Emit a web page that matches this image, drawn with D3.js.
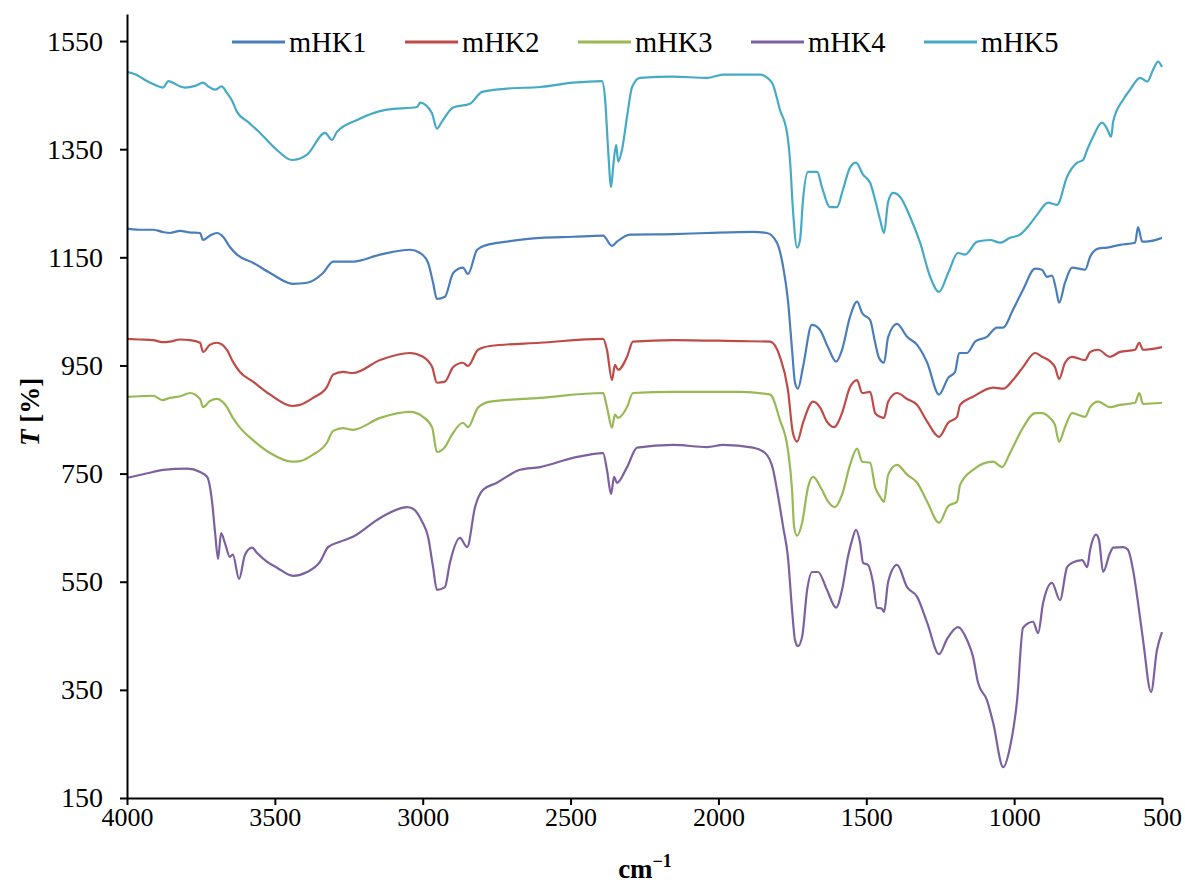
<!DOCTYPE html>
<html>
<head>
<meta charset="utf-8">
<script src="https://cdn.jsdelivr.net/npm/d3@7"></script>
<style>
  html, body { margin: 0; padding: 0; background: #fff; }
  svg { display: block; }
  svg text { font-family: "Liberation Serif", "Times New Roman", Times, serif !important; fill: #000; }
</style>
</head>
<body>
<svg id="chart" width="1185" height="886"></svg>
<script>
// FTIR transmittance spectra, each point is [wavenumber (cm^-1), T (%)]
const seriesNames = ["mHK1", "mHK2", "mHK3", "mHK4", "mHK5"];
const seriesColors = ["#4A7EBB", "#BE4B48", "#98B954", "#7D60A0", "#46AAC5"];

const xTicks = [4000, 3500, 3000, 2500, 2000, 1500, 1000, 500];
const yTicks = [150, 350, 550, 750, 950, 1150, 1350, 1550];

const mHK1 = [
  [4000,1203],[3960,1201],[3912,1201],[3880,1197],[3855,1195],[3820,1199],[3790,1196],[3753,1195],[3743,1182],[3720,1190],[3696,1195],[3675,1188],
  [3652,1169],[3628,1155],[3574,1140],[3516,1121],[3439,1101],[3391,1103],[3337,1121],
  [3303,1142],[3236,1142],[3144,1155],[3043,1164],[3009,1158],[2982,1140],[2965,1103],
  [2952,1073],[2925,1077],[2897,1121],[2864,1131],[2847,1119],[2816,1164],[2782,1173],
  [2715,1179],[2603,1186],[2492,1188],[2390,1190],[2360,1171],[2343,1179],[2299,1192],
  [2153,1193],[2038,1195],[1883,1197],[1836,1195],[1802,1177],[1781,1132],[1765,1071],
  [1751,979],[1741,918],[1731,907],[1714,947],[1684,1025],[1657,1016],[1629,983],
  [1602,957],[1582,979],[1555,1040],[1531,1068],[1514,1047],[1487,1034],[1470,992],
  [1457,964],[1440,955],[1426,1003],[1396,1027],[1362,1003],[1328,988],[1294,955],
  [1254,896],[1223,927],[1200,938],[1186,973],[1159,973],[1132,994],[1092,1003],
  [1058,1020],[1037,1020],[1004,1053],[970,1090],[929,1129],[906,1127],[889,1114],
  [872,1116],[858,1090],[848,1066],[828,1103],[804,1131],[760,1127],[743,1151],
  [716,1166],[686,1168],[642,1173],[591,1177],[581,1206],[567,1179],[540,1180],[500,1186]
];

const mHK2 = [
  [4000,999],[3960,998],[3912,997],[3880,993],[3855,994],[3820,998],[3787,997],[3753,992],[3743,975],[3720,988],[3696,992],[3662,979],
  [3642,957],[3618,938],[3574,920],[3516,896],[3442,875],[3415,877],[3371,890],[3324,910],
  [3303,933],[3270,938],[3236,936],[3144,960],[3043,973],[2999,966],[2968,947],[2952,918],
  [2925,920],[2897,947],[2864,955],[2847,949],[2813,979],[2772,986],[2603,992],[2390,999],
  [2377,979],[2360,923],[2350,951],[2339,942],[2309,966],[2289,994],[2153,997],[1927,995],
  [1825,994],[1792,966],[1765,905],[1748,825],[1734,809],[1714,844],[1680,883],[1656,872],
  [1633,846],[1609,836],[1582,862],[1555,910],[1531,923],[1514,899],[1487,901],[1470,862],
  [1453,855],[1440,853],[1426,883],[1396,899],[1362,888],[1328,877],[1294,846],[1254,818],
  [1223,844],[1193,855],[1183,877],[1139,892],[1071,909],[1037,907],[1004,923],[970,947],
  [929,973],[906,966],[879,958],[862,947],[848,925],[828,955],[804,966],[760,960],
  [743,975],[716,979],[676,966],[642,975],[591,979],[577,992],[564,979],[500,984]
];

const mHK3 = [
  [4000,892],[3960,893],[3912,894],[3880,886],[3855,890],[3820,893],[3787,899],[3753,888],[3743,873],[3720,884],[3696,888],[3662,873],
  [3642,853],[3618,835],[3574,812],[3516,788],[3442,772],[3415,773],[3371,785],[3324,807],
  [3303,829],[3270,834],[3236,831],[3144,853],[3043,864],[2999,855],[2968,835],[2952,790],
  [2925,799],[2901,822],[2864,844],[2847,836],[2813,872],[2772,883],[2603,890],[2390,899],
  [2377,873],[2360,835],[2350,859],[2339,853],[2309,873],[2289,899],[2153,901],[1927,901],
  [1825,896],[1792,849],[1765,794],[1751,720],[1744,651],[1734,635],[1717,659],[1697,725],
  [1680,744],[1650,720],[1629,698],[1606,688],[1582,711],[1555,766],[1531,796],[1514,772],
  [1487,770],[1470,725],[1453,707],[1440,698],[1426,748],[1396,766],[1362,748],[1328,733],
  [1294,698],[1254,659],[1223,690],[1193,698],[1183,729],[1139,757],[1071,772],[1041,762],
  [1014,788],[970,835],[929,862],[906,862],[879,853],[862,840],[848,809],[828,836],
  [804,862],[760,855],[743,873],[716,883],[676,873],[642,877],[591,881],[577,899],
  [564,879],[500,881]
];

const mHK4 = [
  [4000,742],[3912,753],[3878,757],[3797,759],[3753,753],[3729,744],[3713,701],[3702,640],
  [3692,592],[3682,640],[3669,622],[3652,596],[3642,600],[3621,555],[3601,600],[3577,613],
  [3560,603],[3527,587],[3493,576],[3439,561],[3391,568],[3347,587],[3320,614],[3280,624],
  [3236,633],[3144,668],[3053,688],[3033,685],[3002,661],[2982,633],[2965,577],[2952,535],
  [2925,540],[2908,585],[2874,631],[2850,614],[2823,688],[2796,720],[2749,733],[2705,748],
  [2671,757],[2603,762],[2492,779],[2390,788],[2377,757],[2363,712],[2353,744],[2343,733],
  [2309,762],[2275,798],[2153,803],[2038,799],[1984,803],[1883,798],[1842,788],[1815,757],
  [1802,720],[1781,651],[1765,596],[1751,498],[1741,442],[1731,431],[1717,448],[1700,535],
  [1683,568],[1663,568],[1633,535],[1602,502],[1582,535],[1562,596],[1548,627],[1535,646],
  [1521,622],[1511,585],[1494,581],[1477,548],[1464,502],[1447,500],[1440,494],[1426,550],
  [1396,581],[1362,540],[1328,522],[1294,474],[1254,416],[1227,444],[1190,466],[1159,442],
  [1139,411],[1122,363],[1092,331],[1071,289],[1037,207],[1014,244],[990,331],[970,465],
  [936,476],[919,455],[902,511],[872,548],[845,516],[821,577],[804,585],[770,590],
  [753,577],[743,609],[723,637],[713,627],[699,568],[676,603],[665,613],[632,614],
  [615,609],[598,572],[581,511],[564,442],[537,346],[517,424],[500,457]
];

const mHK5 = [
  [4000,1493],[3970,1488],[3939,1478],[3910,1470],[3878,1464],[3860,1476],[3838,1471],[3820,1466],[3804,1464],[3770,1467],[3743,1473],[3725,1466],[3702,1460],
  [3680,1466],[3662,1454],[3645,1440],[3628,1419],[3590,1400],[3550,1380],[3500,1352],[3442,1330],[3391,1340],[3330,1380],
  [3307,1367],[3290,1382],[3222,1404],[3121,1423],[3019,1428],[3009,1436],[2969,1417],
  [2952,1388],[2935,1401],[2897,1427],[2840,1434],[2799,1456],[2715,1462],[2603,1465],
  [2492,1473],[2394,1476],[2383,1441],[2373,1349],[2363,1280],[2356,1317],[2346,1358],
  [2339,1327],[2326,1349],[2309,1410],[2292,1465],[2265,1482],[2153,1484],[2038,1482],
  [1984,1488],[1859,1488],[1819,1473],[1792,1423],[1768,1380],[1758,1330],[1748,1238],
  [1734,1168],[1724,1182],[1714,1256],[1697,1308],[1666,1308],[1650,1280],[1623,1243],
  [1599,1243],[1579,1275],[1555,1316],[1535,1325],[1511,1303],[1487,1288],[1470,1256],
  [1453,1219],[1440,1195],[1426,1253],[1409,1269],[1386,1262],[1352,1225],[1318,1177],
  [1284,1114],[1254,1086],[1223,1121],[1190,1158],[1166,1155],[1125,1179],[1081,1182],
  [1047,1177],[1014,1186],[980,1192],[956,1205],[922,1229],[885,1251],[855,1247],
  [821,1299],[787,1325],[767,1330],[753,1349],[733,1373],[703,1399],[686,1388],
  [672,1373],[665,1401],[632,1441],[608,1460],[574,1482],[550,1475],[530,1497],
  [513,1512],[500,1502]
];

const seriesData = [mHK1, mHK2, mHK3, mHK4, mHK5];

// Layout
const width = 1185, height = 886;
const margin = { left: 127, right: 23, top: 14, bottom: 88 };
const innerW = width - margin.left - margin.right;
const innerH = height - margin.top - margin.bottom;
const serif = "'Liberation Serif', 'Times New Roman', Times, serif";

const svg = d3.select("#chart");
const g = svg.append("g").attr("transform", `translate(${margin.left},${margin.top})`);

const x = d3.scaleLinear().domain([4000, 500]).range([0, innerW]);
const y = d3.scaleLinear().domain([150, 1600]).range([innerH, 0]);

// Spectra
const line = d3.line()
  .x(d => x(d[0]))
  .y(d => y(d[1]))
  .curve(d3.curveMonotoneX);

seriesData.forEach((data, i) => {
  g.append("path")
    .datum(data)
    .attr("fill", "none")
    .attr("stroke", seriesColors[i])
    .attr("stroke-width", 2.2)
    .attr("stroke-linejoin", "round")
    .attr("d", line);
});

// Axes
const xAxis = g.append("g")
  .attr("transform", `translate(0,${innerH})`)
  .call(d3.axisBottom(x).tickValues(xTicks).tickSize(7).tickSizeOuter(0).tickPadding(3).tickFormat(d3.format("d")));
const yAxis = g.append("g")
  .call(d3.axisLeft(y).tickValues(yTicks).tickSize(7).tickSizeOuter(0).tickPadding(17).tickFormat(d3.format("d")));

[xAxis, yAxis].forEach(ax => {
  ax.attr("font-family", null).attr("font-size", null);
  ax.select(".domain").attr("stroke", "#000").attr("stroke-width", 2);
  ax.selectAll(".tick line").attr("stroke", "#000").attr("stroke-width", 2);
  ax.selectAll(".tick text")
    .style("font-family", serif)
    .attr("fill", "#000");
});
xAxis.selectAll(".tick text").style("font-size", "26px");
yAxis.selectAll(".tick text").style("font-size", "28px");

// Axis titles
const xTitle = svg.append("text")
  .attr("x", 645)
  .attr("y", 878)
  .attr("text-anchor", "middle")
  .style("font-family", serif)
  .style("font-size", "27px")
  .style("font-weight", "bold");
xTitle.append("tspan").text("cm");
xTitle.append("tspan").attr("dy", -11).style("font-size", "18px").text("\u22121");

const yTitle = svg.append("text")
  .attr("transform", "translate(39,412) rotate(-90)")
  .attr("text-anchor", "middle")
  .style("font-family", serif)
  .style("font-size", "27px")
  .style("font-weight", "bold");
yTitle.append("tspan").style("font-style", "italic").text("T");
yTitle.append("tspan").text(" [%]");

// Legend
const legend = svg.append("g").attr("transform", "translate(232,42)");
seriesNames.forEach((name, i) => {
  const item = legend.append("g").attr("transform", `translate(${i * 173},0)`);
  item.append("line")
    .attr("x1", 0).attr("x2", 53).attr("y1", 0).attr("y2", 0)
    .attr("stroke", seriesColors[i]).attr("stroke-width", 3);
  item.append("text")
    .attr("x", 57).attr("y", 10)
    .style("font-family", serif)
    .style("font-size", "28.5px")
    .text(name);
});
</script>
</body>
</html>
